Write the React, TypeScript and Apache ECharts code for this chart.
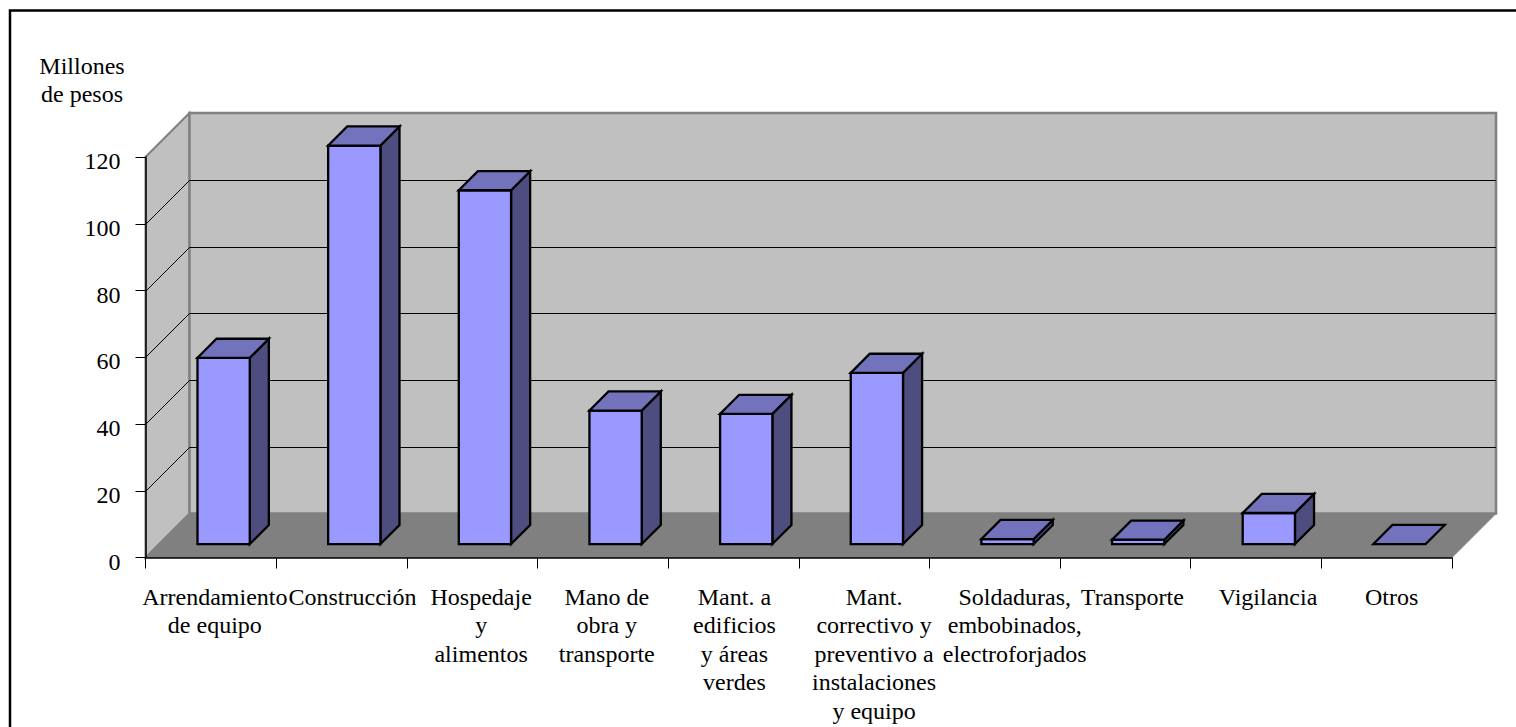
import React, { useEffect, useRef } from "react";
import * as echarts from "echarts";

const categories = [
  "Arrendamiento\nde equipo",
  "Construcción",
  "Hospedaje\ny\nalimentos",
  "Mano de\nobra y\ntransporte",
  "Mant. a\nedificios\ny áreas\nverdes",
  "Mant.\ncorrectivo y\npreventivo a\ninstalaciones\ny equipo",
  "Soldaduras,\nembobinados,\nelectroforjados",
  "Transporte",
  "Vigilancia",
  "Otros",
];
const amounts = [55.8, 119.4, 106, 40, 39, 51.3, 1.5, 1.3, 9.3, 0];
const axisTicks = [0, 20, 40, 60, 80, 100, 120];
// Horizontal nudge of each category label off its band centre, in pixels.
const labelNudge = [4, 11, 9, 4, 1, 10, 20, 7, 12, 5];

const FONT = '"Liberation Serif", "Times New Roman", serif';
const WALL = "#C0C0C0";
const FLOOR = "#808080";
const EDGE = "#808080";
const BAR_FRONT = "#9999FF";
const BAR_SIDE = "#4D4D80";
const BAR_TOP = "#7373BD";

// Depths of the 3D box, as fractions of one category band.
const BOX_DEPTH = 1 / 3;
const BAR_OFFSET = 0.098;
const BAR_LIFT = 0.103;
const BAR_DEPTH = 0.146;
const BAR_WIDTH = 0.4;

const renderWalls = (params: any, api: any) => {
  const cs = params.coordSys;
  const d = Math.round((cs.width / categories.length) * BOX_DEPTH);
  const left = cs.x;
  const right = cs.x + cs.width;
  const yOf = (v: number) => api.coord([0, v])[1];
  const y0 = yOf(axisTicks[0]);
  const yMax = yOf(axisTicks[axisTicks.length - 1]);

  const children: any[] = [
    {
      type: "polygon",
      shape: { points: [[left, y0], [left + d, y0 - d], [left + d, yMax - d], [left, yMax]] },
      style: { fill: WALL, stroke: EDGE, lineWidth: 2 },
    },
    {
      type: "rect",
      shape: { x: left + d, y: yMax - d, width: cs.width, height: y0 - yMax },
      style: { fill: WALL, stroke: EDGE, lineWidth: 2.5 },
    },
    {
      type: "polygon",
      shape: { points: [[left, y0], [right, y0], [right + d, y0 - d], [left + d, y0 - d]] },
      style: { fill: FLOOR, stroke: FLOOR, lineWidth: 1 },
    },
  ];
  axisTicks.slice(1, -1).forEach((t) => {
    const y = Math.round(yOf(t)) + 0.5;
    children.push({
      type: "polyline",
      shape: { points: [[left, y], [left + d, y - d], [right + d, y - d]] },
      style: { fill: "none", stroke: "#000", lineWidth: 1 },
    });
  });
  return { type: "group", children };
};

const renderBar = (_params: any, api: any) => {
  const value = api.value(1);
  const [cx, yBase] = api.coord([api.value(0), 0]);
  const [, yTopRaw] = api.coord([api.value(0), value]);
  const band = api.size([1, 0])[0];
  const off = band * BAR_OFFSET;
  const depth = band * BAR_DEPTH;
  const w = band * BAR_WIDTH;
  const x0 = cx + off - w / 2;
  const x1 = x0 + w;
  const bottom = yBase - band * BAR_LIFT;
  const top = yTopRaw - band * BAR_LIFT;
  const line = { stroke: "#000", lineWidth: 2.3, lineJoin: "miter" };
  const children: any[] = [];
  if (value > 0) {
    children.push({
      type: "polygon",
      shape: { points: [[x1, bottom], [x1 + depth, bottom - depth], [x1 + depth, top - depth], [x1, top]] },
      style: { fill: BAR_SIDE, ...line },
    });
    children.push({
      type: "rect",
      shape: { x: x0, y: top, width: w, height: bottom - top },
      style: { fill: BAR_FRONT, ...line },
    });
  }
  children.push({
    type: "polygon",
    shape: { points: [[x0, top], [x1, top], [x1 + depth, top - depth], [x0 + depth, top - depth]] },
    style: { fill: BAR_TOP, ...line },
  });
  return { type: "group", children };
};

const labelRich: Record<string, any> = {};
labelNudge.forEach((n, i) => {
  labelRich[`c${i}`] = {
    fontFamily: FONT,
    fontSize: 24,
    color: "#000",
    lineHeight: 28.5,
    padding: [0, 0, 0, n * 2],
  };
});

export default function App() {
  const ref = useRef<HTMLDivElement>(null);

  useEffect(() => {
    const chart = echarts.init(ref.current!, null, { renderer: "svg" });
    chart.setOption({
      animation: false,
      backgroundColor: "#fff",
      textStyle: { fontFamily: FONT },
      grid: { left: 145.5, right: 64, top: 157, bottom: 169.5, containLabel: false },
      xAxis: {
        type: "category",
        data: categories,
        z: 4,
        axisLine: { lineStyle: { color: "#000", width: 1.5 } },
        axisTick: { show: true, alignWithLabel: false, length: 11, lineStyle: { color: "#000", width: 1 } },
        axisLabel: {
          interval: 0,
          margin: 25,
          hideOverlap: false,
          formatter: (value: string, index: number) =>
            value.split("\n").map((l) => `{c${index}|${l}}`).join("\n"),
          rich: labelRich,
        },
        splitLine: { show: false },
      },
      yAxis: {
        type: "value",
        min: 0,
        max: 120,
        interval: 20,
        z: 4,
        axisLine: { show: true, lineStyle: { color: "#000", width: 1.5 } },
        axisTick: { show: true, length: 10, lineStyle: { color: "#000", width: 1 } },
        axisLabel: {
          margin: 25,
          formatter: (value: number) => `{v|${value}}`,
          rich: {
            v: {
              color: "#000",
              fontFamily: FONT,
              fontSize: 24,
              lineHeight: 24,
              padding: [8, 0, 0, 0],
            },
          },
        },
        splitLine: { show: false },
      },
      graphic: [
        {
          type: "rect",
          z: -1,
          silent: true,
          shape: { x: 10, y: 10.5, width: 1700, height: 900 },
          style: { fill: "none", stroke: "#000", lineWidth: 2.5 },
        },
        {
          type: "text",
          silent: true,
          x: 82,
          y: 52,
          style: {
            text: "Millones\nde pesos",
            align: "center",
            fontFamily: FONT,
            fontSize: 24,
            lineHeight: 28,
            fill: "#000",
          },
        },
      ],
      series: [
        {
          type: "custom",
          z: 1,
          silent: true,
          renderItem: renderWalls,
          data: [[0, 0]],
          encode: { x: 0, y: 1 },
        },
        {
          type: "custom",
          z: 5,
          silent: true,
          renderItem: renderBar,
          data: amounts.map((v, i) => [i, v]),
          encode: { x: 0, y: 1 },
        },
      ],
    });
    return () => chart.dispose();
  }, []);

  return (
    <div
      ref={ref}
      style={{ position: "fixed", left: 0, top: 0, width: 1516, height: 727 }}
    />
  );
}
